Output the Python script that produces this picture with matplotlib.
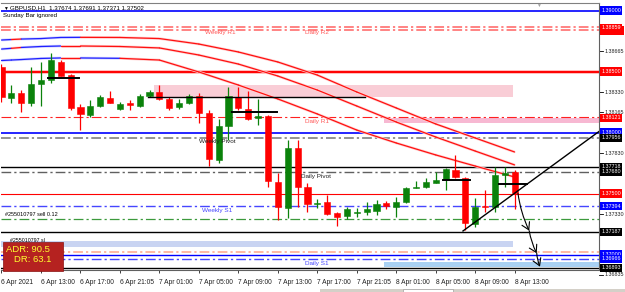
import numpy as np
import matplotlib.pyplot as plt
import matplotlib.transforms as mtransforms
from matplotlib.patches import Rectangle

plt.rcParams['font.family'] = ['Liberation Sans', 'DejaVu Sans']
plt.rcParams['lines.scale_dashes'] = False

# --- candles (H1 bars), index 0 = 6 Apr 09:00 ---
opens = [1.38539, 1.38285, 1.38326, 1.38244, 1.38398, 1.38430, 1.38580, 1.38471, 1.38211, 1.38143,
         1.38217, 1.38283, 1.38195, 1.38244, 1.38217, 1.38299, 1.38332, 1.38272, 1.38207, 1.38239,
         1.38299, 1.38157, 1.37775, 1.38053, 1.38293, 1.38193, 1.38119, 1.38135, 1.37597, 1.37381,
         1.37873, 1.37553, 1.37414, 1.37433, 1.37338, 1.37315, 1.37343, 1.37351, 1.37359, 1.37420,
         1.37392, 1.37433, 1.37548, 1.37556, 1.37589, 1.37611, 1.37693, 1.37625, 1.37250, 1.37398,
         1.37387, 1.37652, 1.37674]
highs = [1.38560, 1.38389, 1.38348, 1.38534, 1.38580, 1.38654, 1.38594, 1.38480, 1.38234, 1.38266,
         1.38307, 1.38340, 1.38252, 1.38266, 1.38316, 1.38348, 1.38389, 1.38291, 1.38275, 1.38316,
         1.38324, 1.38184, 1.38111, 1.38375, 1.38375, 1.38343, 1.38275, 1.38143, 1.37668, 1.37939,
         1.37939, 1.37586, 1.37453, 1.37488, 1.37351, 1.37392, 1.37381, 1.37433, 1.37447, 1.37441,
         1.37474, 1.37556, 1.37605, 1.37627, 1.37679, 1.37706, 1.37816, 1.37638, 1.37461, 1.37529,
         1.37720, 1.37720, 1.37691]
lows = [1.38250, 1.38244, 1.38168, 1.38217, 1.38217, 1.38403, 1.38460, 1.38185, 1.38020, 1.38127,
        1.38209, 1.38239, 1.38184, 1.38184, 1.38209, 1.38291, 1.38266, 1.38184, 1.38193, 1.38230,
        1.38078, 1.37725, 1.37750, 1.37939, 1.38184, 1.38102, 1.38061, 1.37553, 1.37283, 1.37299,
        1.37392, 1.37351, 1.37379, 1.37324, 1.37234, 1.37290, 1.37310, 1.37324, 1.37324, 1.37370,
        1.37310, 1.37425, 1.37543, 1.37543, 1.37584, 1.37529, 1.37625, 1.37201, 1.37228, 1.37351,
        1.37351, 1.37556, 1.37371]
closes = [1.38293, 1.38321, 1.38244, 1.38398, 1.38430, 1.38594, 1.38466, 1.38198, 1.38152, 1.38217,
          1.38289, 1.38244, 1.38234, 1.38225, 1.38299, 1.38332, 1.38272, 1.38201, 1.38244, 1.38299,
          1.38157, 1.37780, 1.38053, 1.38299, 1.38198, 1.38108, 1.38135, 1.37605, 1.37392, 1.37873,
          1.37553, 1.37414, 1.37425, 1.37332, 1.37310, 1.37373, 1.37351, 1.37371, 1.37414, 1.37398,
          1.37433, 1.37543, 1.37556, 1.37594, 1.37611, 1.37701, 1.37633, 1.37256, 1.37387, 1.37387,
          1.37652, 1.37665, 1.37502]

tick_bars = [0, 4, 8, 12, 16, 20, 24, 28, 32, 36, 40, 44, 48, 52]
tick_labels = ['6 Apr 2021', '6 Apr 13:00', '6 Apr 17:00', '6 Apr 21:05', '7 Apr 01:00', '7 Apr 05:00',
               '7 Apr 09:00', '7 Apr 13:00', '7 Apr 17:00', '7 Apr 21:05', '8 Apr 01:00', '8 Apr 05:00',
               '8 Apr 09:00', '8 Apr 13:00']

# --- moving averages (read at a few bars) ---
ma_bars = [0, 1, 2, 4, 6, 8, 12, 16, 20, 24, 28, 32, 36, 40, 44, 48, 52]
ma_a = [1.38758, 1.38762, 1.38766, 1.38770, 1.38779, 1.38780, 1.38779, 1.38770, 1.38725, 1.38660,
        1.38578, 1.38471, 1.38332, 1.38201, 1.38070, 1.37955, 1.37840]
ma_b = [1.38684, 1.38690, 1.38697, 1.38705, 1.38709, 1.38709, 1.38705, 1.38693, 1.38635, 1.38561,
        1.38463, 1.38348, 1.38217, 1.38086, 1.37963, 1.37848, 1.37734]
ma_c = [1.38590, 1.38594, 1.38598, 1.38607, 1.38611, 1.38611, 1.38608, 1.38594, 1.38496, 1.38389,
        1.38275, 1.38152, 1.38020, 1.37914, 1.37816, 1.37725, 1.37635]
# 'b' = rising segment (blue), 'r' = falling (red)
ma_a_col = 'brbbb' + 'r' * 11
ma_b_col = 'brbb' + 'r' * 12
ma_c_col = 'bbbbrbr' + 'r' * 9

# --- horizontal levels: price, colour, style, width ---
levels = [
    (1.39000, '#0000ff', '-', 1.2),
    (1.38865, '#ff7a7a', 'dd', 1.3),
    (1.38840, '#ff7a7a', 'dd', 1.3),
    (1.38500, '#ff0000', '-', 1.4),
    (1.38125, '#ff2020', 'dd', 0.8),
    (1.38000, '#0000ff', '-', 1.2),
    (1.37956, '#8a8a8a', 'dd', 1.3),
    (1.37718, '#000000', '-', 1.0),
    (1.37680, '#606060', 'dd', 1.0),
    (1.37500, '#ff0000', '-', 0.8),
    (1.37394, '#4646ff', 'dd', 1.0),
    (1.37289, '#3c9a3c', 'dd', 0.9),
    (1.37187, '#000000', '-', 1.0),
    (1.37020, '#ffa58a', 'dd', 1.1),
    (1.37000, '#0000ff', '-', 1.0),
    (1.36966, '#4646ff', 'dd', 1.0),
    (1.36893, '#000000', '-', 1.0),
]
level_texts = [
    (20.6, 1.38822, 'Weekly R1', '#ff5a5a'),
    (30.8, 1.38822, 'Daily R2', '#ff5a5a'),
    (30.8, 1.38089, 'Daily R1', '#ff5a5a'),
    (20.0, 1.37925, 'Weekly Pivot', '#202020'),
    (30.35, 1.37643, 'Daily Pivot', '#202020'),
    (20.3, 1.37357, 'Weekly S1', '#4646ff'),
    (30.8, 1.36928, 'Daily S1', '#4646ff'),
]

# zones: x0, x1 (bars), low, high, colour
zones = [
    (15.5, 51.8, 1.38291, 1.38389, '#f9cdd6'),
    (38.8, 60.6, 1.38075, 1.38119, '#f7b8d2'),
    (-0.2, 51.8, 1.37064, 1.37113, '#c9d4f2'),
    (38.8, 60.6, 1.36898, 1.36938, '#a9d1f3'),
]
# short black lines: x0, x1, price
marks = [(4.7, 7.9, 1.38449), (14.8, 36.8, 1.38295), (23.4, 27.9, 1.38166),
         (44.7, 47.5, 1.37607), (50.4, 53.2, 1.37575)]
trend = ([46.76, 60.6], [1.37193, 1.38012])
arrow_pts = [(52.33, 1.37502), (53.47, 1.37195), (54.23, 1.37010), (54.56, 1.36900)]

# right price scale
axis_prices = [1.38665, 1.38330, 1.38165, 1.37830, 1.37330, 1.36835]
boxes = [
    (1.39000, '1.39000', '#0000ff'), (1.38859, '1.38859', '#ff0000'),
    (1.38500, '1.38500', '#ff0000'), (1.38121, '1.38121', '#ff0000'), (1.38000, '1.38000', '#0000ff'),
    (1.37956, '1.37956', '#000000'), (1.37718, '1.37718', '#000000'), (1.37680, '1.37680', '#000000'),
    (1.37500, '1.37500', '#ff0000'), (1.37394, '1.37394', '#0000ff'), (1.37187, '1.37187', '#000000'),
    (1.37000, '1.37000', '#0000ff'), (1.36966, '1.36966', '#0000ff'), (1.36893, '1.36893', '#000000'),
]

W, H = 625, 292
fig = plt.figure(figsize=(W / 100, H / 100), dpi=100)
ax = fig.add_axes([1 / W, (H - 270) / H, 598 / W, 267 / H])
ax.set_xlim(-0.05, 60.54)
ax.set_ylim(1.36873, 1.390615)

dd = (0, (7, 2.2, 1.6, 2.2))

for x0, x1, lo, hi, c in zones:
    ax.add_patch(Rectangle((x0, lo), x1 - x0, hi - lo, fc=c, ec='none', zorder=1))

for p, c, ls, lw in levels:
    if p == 1.38500:
        ax.axhline(p, color='#ffb0b0', lw=2.6, zorder=2)
    ax.axhline(p, color=c, lw=lw, ls=dd if ls == 'dd' else '-', zorder=2)

# moving averages with a soft halo
for vals, cols in [(ma_a, ma_a_col), (ma_b, ma_b_col), (ma_c, ma_c_col)]:
    for i in range(len(ma_bars) - 1):
        xs = ma_bars[i:i + 2]
        ys = vals[i:i + 2]
        main = '#2020ff' if cols[i] == 'b' else '#ff1010'
        halo = '#d2d5ff' if cols[i] == 'b' else '#ffd2d2'
        ax.plot(xs, ys, color=halo, lw=1.9, solid_capstyle='butt', zorder=3)
        ax.plot(xs, ys, color=main, lw=0.9, solid_capstyle='round', zorder=3.5)

# candles
x = np.arange(len(opens))
o, h, l, c = map(np.array, (opens, highs, lows, closes))
up = c >= o
col = np.where(up, '#0b820b', '#ff0000')
ax.vlines(x, l, h, colors=col, lw=0.9, zorder=4)
body = np.maximum(np.abs(c - o), 0.000025)
ax.bar(x, body, bottom=np.minimum(o, c), width=0.62, color=col, edgecolor=col, lw=0.4, zorder=5)

for x0, x1, p in marks:
    ax.plot([x0, x1], [p, p], color='black', lw=1.4 if x1 - x0 < 10 else 1.0, zorder=6)

ax.plot(trend[0], trend[1], color='black', lw=1.0, zorder=6)

for (xa, ya), (xb, yb) in zip(arrow_pts[:-1], arrow_pts[1:]):
    ax.annotate('', xy=(xb, yb), xytext=(xa, ya),
                arrowprops=dict(arrowstyle='->,head_length=0.5,head_width=0.3', color='black', lw=0.8,
                                connectionstyle='arc3,rad=0.08', shrinkA=0, shrinkB=0), zorder=7)

for xt, yt, s, c_ in level_texts:
    ax.text(xt, yt, s, fontsize=4.6, color=c_, ha='left', va='center', zorder=7)

ax.text(0.35, 1.37324, '#255010797 sell 0.12', fontsize=4.0, color='black', va='center', zorder=7)
ax.text(0.9, 1.37112, '#255010797 sl', fontsize=3.8, color='black', va='center', zorder=7)

# ADR box
ax.add_patch(Rectangle((0.15, 1.36862), 6.05, 0.00238, fc='#b52220', ec='#8a1010', lw=0.5,
                       zorder=8, clip_on=False))
ax.text(0.5, 1.37045, 'ADR: 90.5', fontsize=6.8, color='#ffff30', va='center', zorder=9)
ax.text(1.3, 1.36955, 'DR: 63.1', fontsize=6.8, color='#ffff30', va='center', zorder=9)

# axes frame
ax.spines['left'].set_visible(False)
ax.spines['top'].set_color('#808080')
ax.spines['right'].set_color('#606060')
ax.spines['bottom'].set_color('#606060')
for sp in ax.spines.values():
    sp.set_linewidth(0.8)

ax.set_xticks(tick_bars)
ax.set_xticklabels(tick_labels, fontsize=4.8, ha='left')
ax.tick_params(axis='x', length=2.5, width=0.6, pad=4, colors='#202020')
ax.set_yticks([])

tr = mtransforms.blended_transform_factory(ax.transAxes, ax.transData)
for p in axis_prices:
    ax.plot([1.0, 1.006], [p, p], transform=tr, color='black', lw=0.6, clip_on=False)
    ax.text(1.01, p, f'{p:.5f}', transform=tr, fontsize=3.9, color='#202020', va='center', ha='left')
# second Daily R2 box hides behind the first one
ax.add_patch(Rectangle((1.0015, 1.38800), 0.0405, 0.00075, transform=tr, fc='#ff0000', ec='none',
                       clip_on=False, zorder=9))
for p, s, c_ in boxes:
    ax.text(1.0035, p, s, transform=tr, fontsize=3.9, color='white', va='center', ha='left',
            bbox=dict(boxstyle='square,pad=0.28', fc=c_, ec='none'), zorder=10)

# header
fig.text(3 / W, 1 - 8 / H, '\u25bc', fontsize=3.5, color='black', va='center', ha='left')
fig.text(10 / W, 1 - 8 / H, 'GBPUSD,H1  1.37674 1.37691 1.37371 1.37502', fontsize=4.4, va='center', ha='left')
fig.text(3 / W, 1 - 16 / H, 'Sunday Bar ignored', fontsize=4.4, va='center', ha='left')
fig.text(538 / W, 1 - 5 / H, '\u25bc', fontsize=3.5, color='#a0a0a0', va='center', ha='center')

# bottom tab strip
fig.patches.append(Rectangle((320 / W, 0), 305 / W, 3 / H, transform=fig.transFigure, fc='#d4d0c8', ec='none'))
fig.patches.append(Rectangle((403 / W, 0), 50 / W, 3 / H, transform=fig.transFigure, fc='white', ec='#a0a0a0', lw=0.5))

fig.savefig('out.png', dpi=100)
